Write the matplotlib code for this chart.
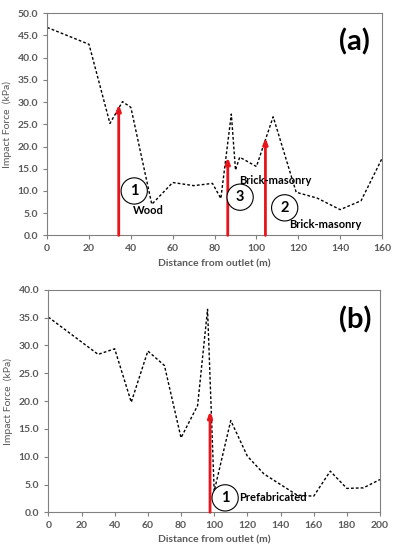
import matplotlib
matplotlib.use('Agg')
import matplotlib.pyplot as plt

plt.rcParams['font.family'] = ['Lato', 'DejaVu Sans']

# panel (a) profile
xa = [0, 20, 30, 36, 40, 50, 60, 70, 79, 83, 88, 90, 92, 100, 108, 119, 129, 140, 150, 160]
ya = [46.8, 43.0, 25.2, 30.1, 28.8, 7.0, 11.9, 11.2, 11.7, 8.3, 27.3, 14.7, 17.6, 15.5, 26.7, 9.7, 8.4, 5.8, 7.8, 17.3]
arrows_a_x = [34.2, 86.3, 104.3]
arrows_a_tip = [29.5, 17.6, 22.0]

# panel (b) profile
xb = [0, 30, 40, 50, 60, 70, 80, 90, 96, 100, 110, 120, 130, 150, 160, 170, 180, 190, 200]
yb = [35.1, 28.4, 29.4, 19.8, 29.0, 26.4, 13.4, 19.2, 36.5, 3.8, 16.5, 10.1, 6.9, 3.1, 2.9, 7.4, 4.3, 4.4, 5.9]
arrows_b_x = [97.5]
arrows_b_tip = [18.2]

gray = '#595959'

fig = plt.figure(figsize=(3.93, 5.5), dpi=100)
ax1 = fig.add_axes([0.120, 0.572, 0.852, 0.404])
ax2 = fig.add_axes([0.123, 0.0685, 0.844, 0.4045])


def style(ax, xmax, xstep, ymax):
    ax.set_xlim(0, xmax)
    ax.set_ylim(0, ymax)
    ax.set_xticks(range(0, xmax + 1, xstep))
    ax.set_yticks([i * 5 for i in range(int(ymax / 5) + 1)])
    ax.set_yticklabels(['{:.1f}'.format(i * 5) for i in range(int(ymax / 5) + 1)])
    for s in ax.spines.values():
        s.set_color('#808080')
        s.set_linewidth(0.8)
    ax.tick_params(direction='out', length=3, width=0.8, colors='#808080',
                   labelcolor=gray, labelsize=7.5)
    for lab in ax.get_xticklabels() + ax.get_yticklabels():
        lab.set_fontweight('bold')
    ax.set_xlabel('Distance from outlet (m)', fontsize=7.5, color=gray, fontweight='bold')
    ax.set_ylabel('Impact Force  (kPa)', fontsize=7.5, color=gray)


def arrow(ax, x, tip):
    ax.annotate('', xy=(x, tip), xytext=(x, 0),
                arrowprops=dict(arrowstyle='-|>,head_length=0.35,head_width=0.13',
                                color='#e8141a', lw=2, shrinkA=0, shrinkB=0))


def circ(ax, x, y, t):
    ax.text(x, y, t, ha='center', va='center', fontsize=10.5, fontweight='bold',
            bbox=dict(boxstyle='circle,pad=0.42', fc='white', ec='black', lw=0.8))


# (a)
ax1.plot(xa, ya, ls=(0, (2, 1.5)), color='black', lw=1)
for x, t in zip(arrows_a_x, arrows_a_tip):
    arrow(ax1, x, t)
style(ax1, 160, 20, 50)
circ(ax1, 41.6, 10.0, '1')
ax1.text(48.5, 5.6, 'Wood', ha='center', va='center', fontsize=8, fontweight='bold')
circ(ax1, 92.2, 8.6, '3')
ax1.text(109, 12.4, 'Brick-masonry', ha='center', va='center', fontsize=8, fontweight='bold')
circ(ax1, 113.5, 6.2, '2')
ax1.text(132.8, 2.5, 'Brick-masonry', ha='center', va='center', fontsize=8, fontweight='bold')
ax1.text(147, 43.5, '(a)', ha='center', va='center', fontsize=21, fontweight='bold')

# (b)
ax2.plot(xb, yb, ls=(0, (2, 1.5)), color='black', lw=1)
for x, t in zip(arrows_b_x, arrows_b_tip):
    arrow(ax2, x, t)
style(ax2, 200, 20, 40)
circ(ax2, 106.6, 2.6, '1')
ax2.text(135.3, 2.6, 'Prefabricated', ha='center', va='center', fontsize=8, fontweight='bold')
ax2.text(185, 34.6, '(b)', ha='center', va='center', fontsize=21, fontweight='bold')

fig.savefig('out.png', dpi=100)
